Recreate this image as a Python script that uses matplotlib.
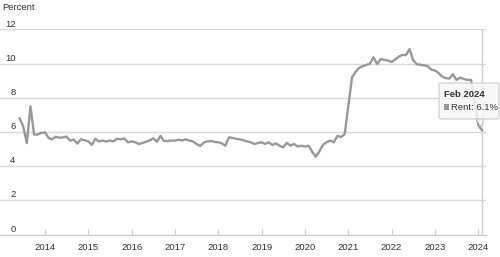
import matplotlib
matplotlib.use('Agg')
import matplotlib.pyplot as plt
import matplotlib.patches as mpatches
import matplotlib.transforms as mtransforms
import pandas as pd

plt.rcParams['font.family'] = ['Liberation Sans', 'DejaVu Sans']

# monthly rent values (percent), Jun 2013 .. Feb 2024
rent_2013 = [6.80, 6.35, 5.35, 7.50, 5.85, 5.85, 5.95]
rent_2014 = [5.98, 5.65, 5.57, 5.72, 5.67, 5.68, 5.73, 5.50, 5.55, 5.32, 5.58, 5.52]
rent_2015 = [5.45, 5.25, 5.60, 5.45, 5.50, 5.44, 5.50, 5.45, 5.60, 5.57, 5.62, 5.40]
rent_2016 = [5.45, 5.40, 5.30, 5.35, 5.43, 5.50, 5.63, 5.43, 5.77, 5.47, 5.47, 5.50]
rent_2017 = [5.50, 5.55, 5.50, 5.57, 5.50, 5.45, 5.30, 5.18, 5.38, 5.45, 5.47, 5.42]
rent_2018 = [5.40, 5.33, 5.20, 5.69, 5.65, 5.60, 5.57, 5.52, 5.45, 5.40, 5.30, 5.35]
rent_2019 = [5.40, 5.30, 5.40, 5.25, 5.33, 5.20, 5.10, 5.37, 5.20, 5.30, 5.15, 5.20]
rent_2020 = [5.15, 5.20, 4.85, 4.55, 4.85, 5.25, 5.40, 5.50, 5.40, 5.78, 5.70, 5.88]
rent_2021 = [7.55, 9.20, 9.50, 9.75, 9.85, 9.92, 10.00, 10.37, 9.98, 10.27, 10.22, 10.18]
rent_2022 = [10.10, 10.25, 10.40, 10.52, 10.50, 10.86, 10.20, 9.96, 9.94, 9.90, 9.85, 9.65]
rent_2023 = [9.60, 9.45, 9.25, 9.15, 9.13, 9.38, 9.05, 9.18, 9.10, 9.05, 9.05, 7.80]
rent_2024 = [6.40, 6.10]

rent = (rent_2013 + rent_2014 + rent_2015 + rent_2016 + rent_2017 + rent_2018
        + rent_2019 + rent_2020 + rent_2021 + rent_2022 + rent_2023 + rent_2024)
dates = pd.date_range('2013-06-01', periods=len(rent), freq='MS')

y_ticks = [0, 2, 4, 6, 8, 10, 12]
x_years = list(range(2014, 2025))

W, H = 500, 257
fig = plt.figure(figsize=(W / 100, H / 100), dpi=100, facecolor='white')
# plot area in pixels: x 0..486, y 29.5..234.5
ax = fig.add_axes([0, (H - 234.5) / H, 486 / W, (234.5 - 29.5) / H])
ax.set_facecolor('white')

ax.plot(dates, rent, color='#98989c', linewidth=1.7, solid_joinstyle='round', zorder=3)

ax.set_ylim(0, 12)
ax.set_xlim(pd.Timestamp('2012-12-18'), pd.Timestamp('2024-03-06'))

for v in y_ticks[1:]:
    ax.axhline(v, color='#d8d8d8', linewidth=1.0, zorder=1)
ax.set_yticks([])

# y labels sit just above the gridlines
tr = mtransforms.blended_transform_factory(fig.transFigure, ax.transData)
for v in y_ticks:
    ax.text(15.5 / W, v + 0.17, str(v), transform=tr, ha='right', va='baseline',
            fontsize=6.8, color='#333333')

for s in ['top', 'right', 'left']:
    ax.spines[s].set_visible(False)
ax.spines['bottom'].set_color('#cccccc')
ax.spines['bottom'].set_linewidth(1.0)

ax.set_xticks([pd.Timestamp(f'{y}-01-01') for y in x_years])
ax.set_xticklabels([str(y) for y in x_years])
ax.tick_params(axis='x', direction='in', length=4, width=0.8, color='#cccccc',
               labelsize=6.8, labelcolor='#333333', pad=6)

# hover crosshair at Feb 2024
ax.axvline(dates[-1], color='#d0d0d0', linewidth=1.0, zorder=2)

fig.text(2 / W, 1 - 7 / H, 'Percent', ha='left', va='center', fontsize=6.8, color='#333333')

# tooltip
def fx(px):
    return px / W

def fy(py):
    return 1 - py / H

box = mpatches.FancyBboxPatch((fx(439), fy(119)), fx(60), (119 - 83) / H,
                              boxstyle='round,pad=0,rounding_size=0.006',
                              transform=fig.transFigure, facecolor='#f7f7f7',
                              edgecolor='#c4c4c4', linewidth=0.8, alpha=0.85, zorder=10)
fig.patches.append(box)
ptr = mpatches.Polygon([(fx(476), fy(119)), (fx(481), fy(127)), (fx(484), fy(119))],
                       closed=True, transform=fig.transFigure, facecolor='#f7f7f7',
                       edgecolor='#c4c4c4', linewidth=0.8, alpha=0.85, zorder=10)
fig.patches.append(ptr)
fig.text(fx(444), fy(94.5), 'Feb 2024', ha='left', va='center', fontsize=6.8,
         fontweight='bold', color='#333333', zorder=11)
fig.patches.append(mpatches.Rectangle((fx(444), fy(109.5)), fx(5), 5 / H,
                                      transform=fig.transFigure, facecolor='#98989c',
                                      edgecolor='none', zorder=11))
fig.text(fx(451), fy(107), f'Rent: {rent[-1]:.1f}%', ha='left', va='center',
         fontsize=6.8, color='#333333', zorder=11)

fig.savefig('out.png', dpi=100, facecolor='white')
